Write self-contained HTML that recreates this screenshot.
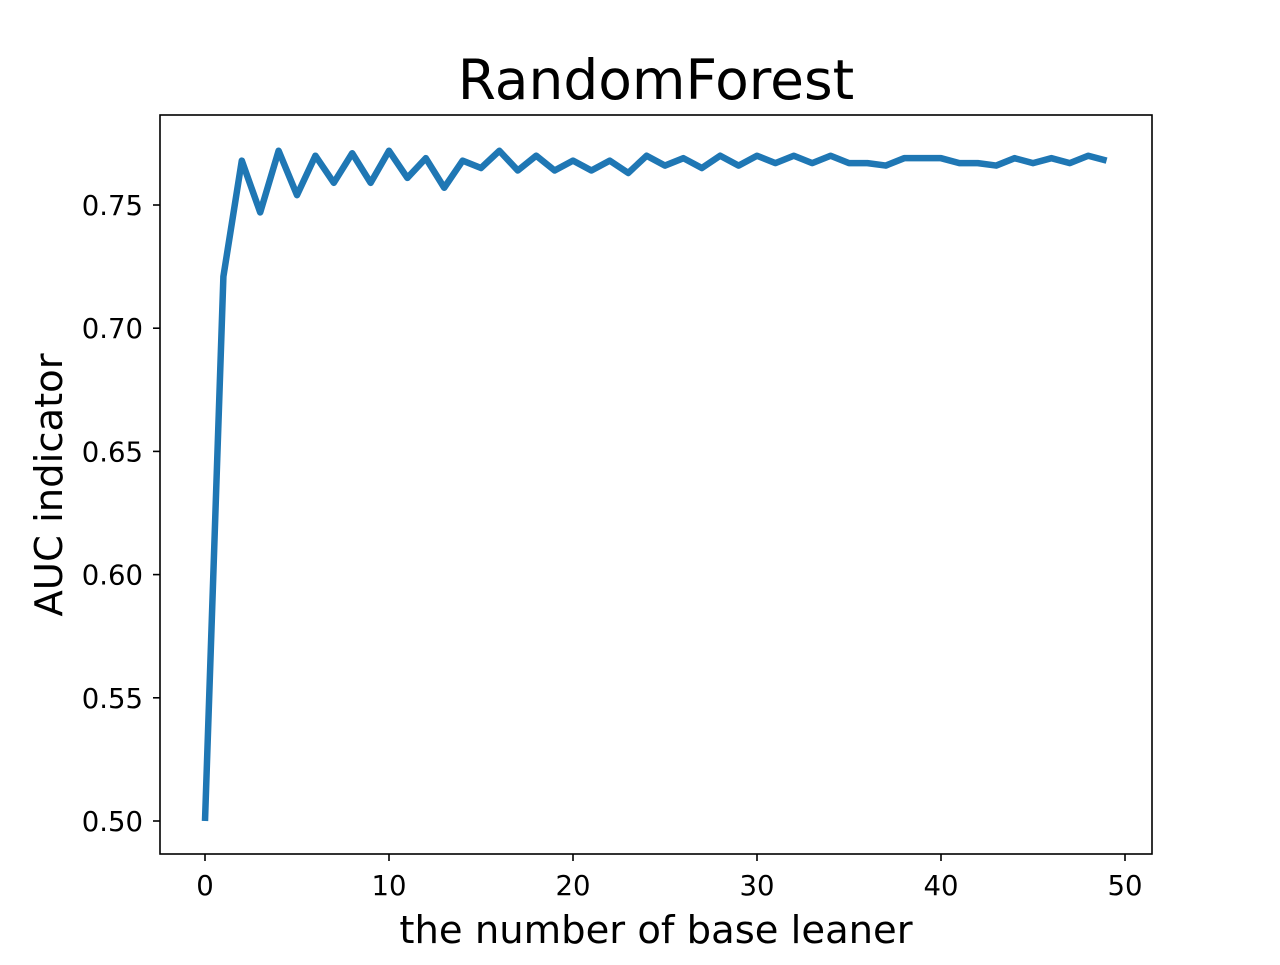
<!DOCTYPE html>
<html><head><meta charset="utf-8"><style>
body{margin:0;background:#fff}
svg text{font-family:"DejaVu Sans","Liberation Sans",sans-serif;fill:#000}
</style></head><body>
<svg id="chart" width="1280" height="960">
<rect width="1280" height="960" fill="#fff"/>
<text x="656" y="99" font-size="55" text-anchor="middle">RandomForest</text>
<text x="656" y="943" font-size="38.5" text-anchor="middle">the number of base leaner</text>
<text transform="translate(62,485) rotate(-90)" font-size="38.5" text-anchor="middle">AUC indicator</text>
<g id="ticks"></g>
<polyline id="line" fill="none" stroke="#1f77b4" stroke-width="6.5" stroke-linejoin="round" stroke-linecap="butt"/>
<rect x="160" y="115" width="992" height="739" fill="none" stroke="#000" stroke-width="1.6"/>
</svg>
<script>
const xValues = Array.from({length:50},(_,i)=>i);
const aucValues = [0.500,0.721,0.768,0.747,0.772,0.754,0.770,0.759,0.771,0.759,0.772,0.761,0.769,0.757,0.768,0.765,0.772,0.764,0.770,0.764,0.768,0.764,0.768,0.763,0.770,0.766,0.769,0.765,0.770,0.766,0.770,0.767,0.770,0.767,0.770,0.767,0.767,0.766,0.769,0.769,0.769,0.767,0.767,0.766,0.769,0.767,0.769,0.767,0.770,0.768];
const xTicks = [0,10,20,30,40,50];
const yTicks = [0.50,0.55,0.60,0.65,0.70,0.75];
const xs = v => 205 + v*18.4;
const ys = v => 821 - (v-0.5)*2464;
const ns = "http://www.w3.org/2000/svg";
const line = document.getElementById('line');
line.setAttribute('points', xValues.map((x,i)=>xs(x)+','+ys(aucValues[i])).join(' '));
const g = document.getElementById('ticks');
xTicks.forEach(t=>{
  const l=document.createElementNS(ns,'line');
  l.setAttribute('x1',xs(t));l.setAttribute('x2',xs(t));l.setAttribute('y1',854);l.setAttribute('y2',861);
  l.setAttribute('stroke','#000');l.setAttribute('stroke-width','1.6');
  
  
  g.appendChild(l);
  const tx=document.createElementNS(ns,'text');
  tx.setAttribute('x',xs(t));tx.setAttribute('y',895);tx.setAttribute('font-size','27.5');tx.setAttribute('text-anchor','middle');
  tx.textContent=t;
  
  
  g.appendChild(tx);
});
yTicks.forEach(t=>{
  const l=document.createElementNS(ns,'line');
  l.setAttribute('x1',153);l.setAttribute('x2',160);l.setAttribute('y1',ys(t));l.setAttribute('y2',ys(t));
  l.setAttribute('stroke','#000');l.setAttribute('stroke-width','1.6');
  
  
  g.appendChild(l);
  const tx=document.createElementNS(ns,'text');
  tx.setAttribute('x',143);tx.setAttribute('y',ys(t)+10);tx.setAttribute('font-size','27.5');tx.setAttribute('text-anchor','end');
  tx.textContent=t.toFixed(2);
  
  
  g.appendChild(tx);
});
</script>
</body></html>
